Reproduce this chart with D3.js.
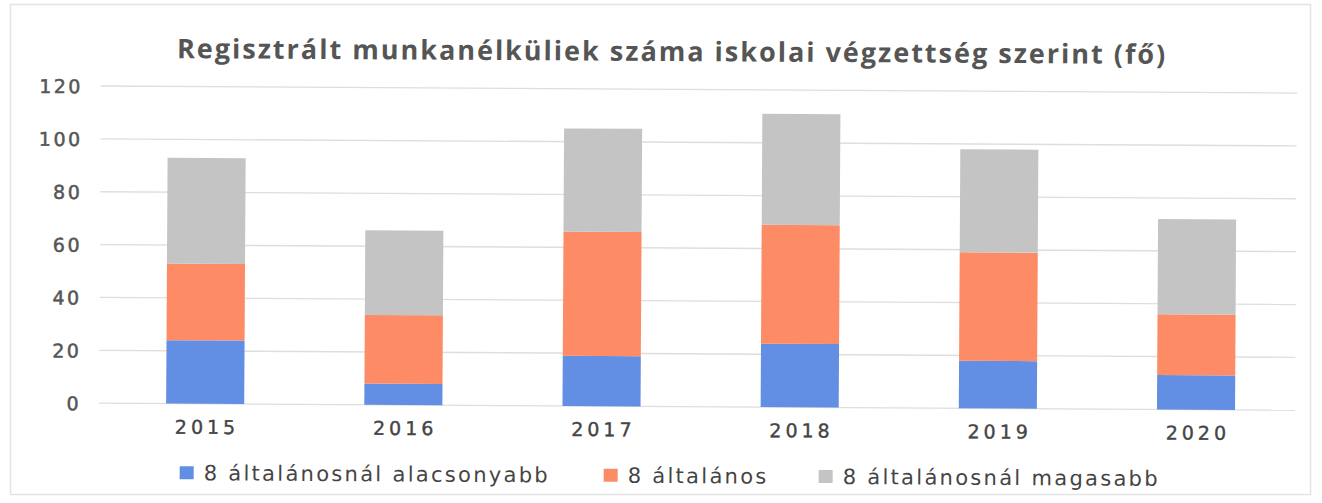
<!DOCTYPE html>
<html><head><meta charset="utf-8">
<script src="https://cdn.jsdelivr.net/npm/d3@7"></script>
<style>body{margin:0;background:#fff}</style>
</head><body>
<svg id="c" width="1322" height="503"></svg>
<script>
const years = ["2015","2016","2017","2018","2019","2020"];
const below8 = [24, 8, 19, 24, 18, 13];
const primary8 = [29, 26, 47, 45, 41, 23];
const above8 = [40, 32, 39, 42, 39, 36];
const seriesNames = ["8 általánosnál alacsonyabb","8 általános","8 általánosnál magasabb"];
const colors = ["#628fe3","#fd8c66","#c4c4c4"];
const yTicks = [0,20,40,60,80,100,120];
const title = "Regisztrált munkanélküliek száma iskolai végzettség szerint (fő)";

const root = d3.select("#c");
// frame
root.append("rect").attr("x",10.5).attr("y",4.5).attr("width",1300).attr("height",490)
  .attr("fill","none").attr("stroke","#e4e4e4").attr("stroke-width",1.5);

// the scanned original is tilted slightly clockwise
const svg = root.append("g").attr("transform","rotate(0.337,661,250)");

const rows = years.map((y,i)=>({year:y, s0:below8[i], s1:primary8[i], s2:above8[i]}));
const stack = d3.stack().keys(["s0","s1","s2"])(rows);

const x = d3.scaleBand().domain(years).range([107,1296]).paddingInner(0.606).paddingOuter(0.303);
const y = d3.scaleLinear().domain([0,120]).range([406.5,89.3]);

// gridlines
svg.append("g").selectAll("line").data(yTicks).join("line")
  .attr("x1",100).attr("x2",1296)
  .attr("y1",d=>y(d)).attr("y2",d=>y(d))
  .attr("stroke","#dedede").attr("stroke-width",1.3);

// y axis labels
const yAxis = svg.append("g").attr("transform","translate(82,0)")
  .call(d3.axisLeft(y).tickValues(yTicks).tickSize(0).tickPadding(0));
yAxis.select(".domain").remove();
yAxis.selectAll("text").attr("font-family","DejaVu Sans").attr("font-size",19)
  .attr("fill","#555").attr("stroke","#555").attr("stroke-width",0.5)
  .attr("letter-spacing",2.5).attr("dy","0.36em");

// bars
svg.append("g").selectAll("g").data(stack).join("g")
  .attr("fill",(d,i)=>colors[i])
  .selectAll("rect").data(d=>d).join("rect")
  .attr("x",d=>x(d.data.year)).attr("width",x.bandwidth())
  .attr("y",d=>y(d[1])).attr("height",d=>y(d[0])-y(d[1]));

// x axis
const xAxis = svg.append("g").attr("transform","translate(2,423)")
  .call(d3.axisBottom(x).tickSize(0).tickPadding(0));
xAxis.select(".domain").remove();
xAxis.selectAll("text").attr("font-family","DejaVu Sans").attr("font-size",19)
  .attr("fill","#444").attr("stroke","#444").attr("stroke-width",0.4)
  .attr("letter-spacing",4).attr("dy","0.71em");

// title
svg.append("text").attr("x",671).attr("y",61).attr("text-anchor","middle")
  .attr("font-family","Open Sans").attr("font-weight",700).attr("font-size",27)
  .attr("letter-spacing",2).attr("fill","#555").text(title);

// legend
const legX = [181, 605, 820];
const leg = svg.append("g").selectAll("g").data(seriesNames).join("g")
  .attr("transform",(d,i)=>`translate(${legX[i]},469)`);
leg.append("rect").attr("width",14).attr("height",13).attr("fill",(d,i)=>colors[i]);
leg.append("text").attr("x",24).attr("y",14).attr("font-family","DejaVu Sans")
  .attr("font-size",21).attr("letter-spacing",2.3).attr("fill","#444").text(d=>d);
</script>
</body></html>
